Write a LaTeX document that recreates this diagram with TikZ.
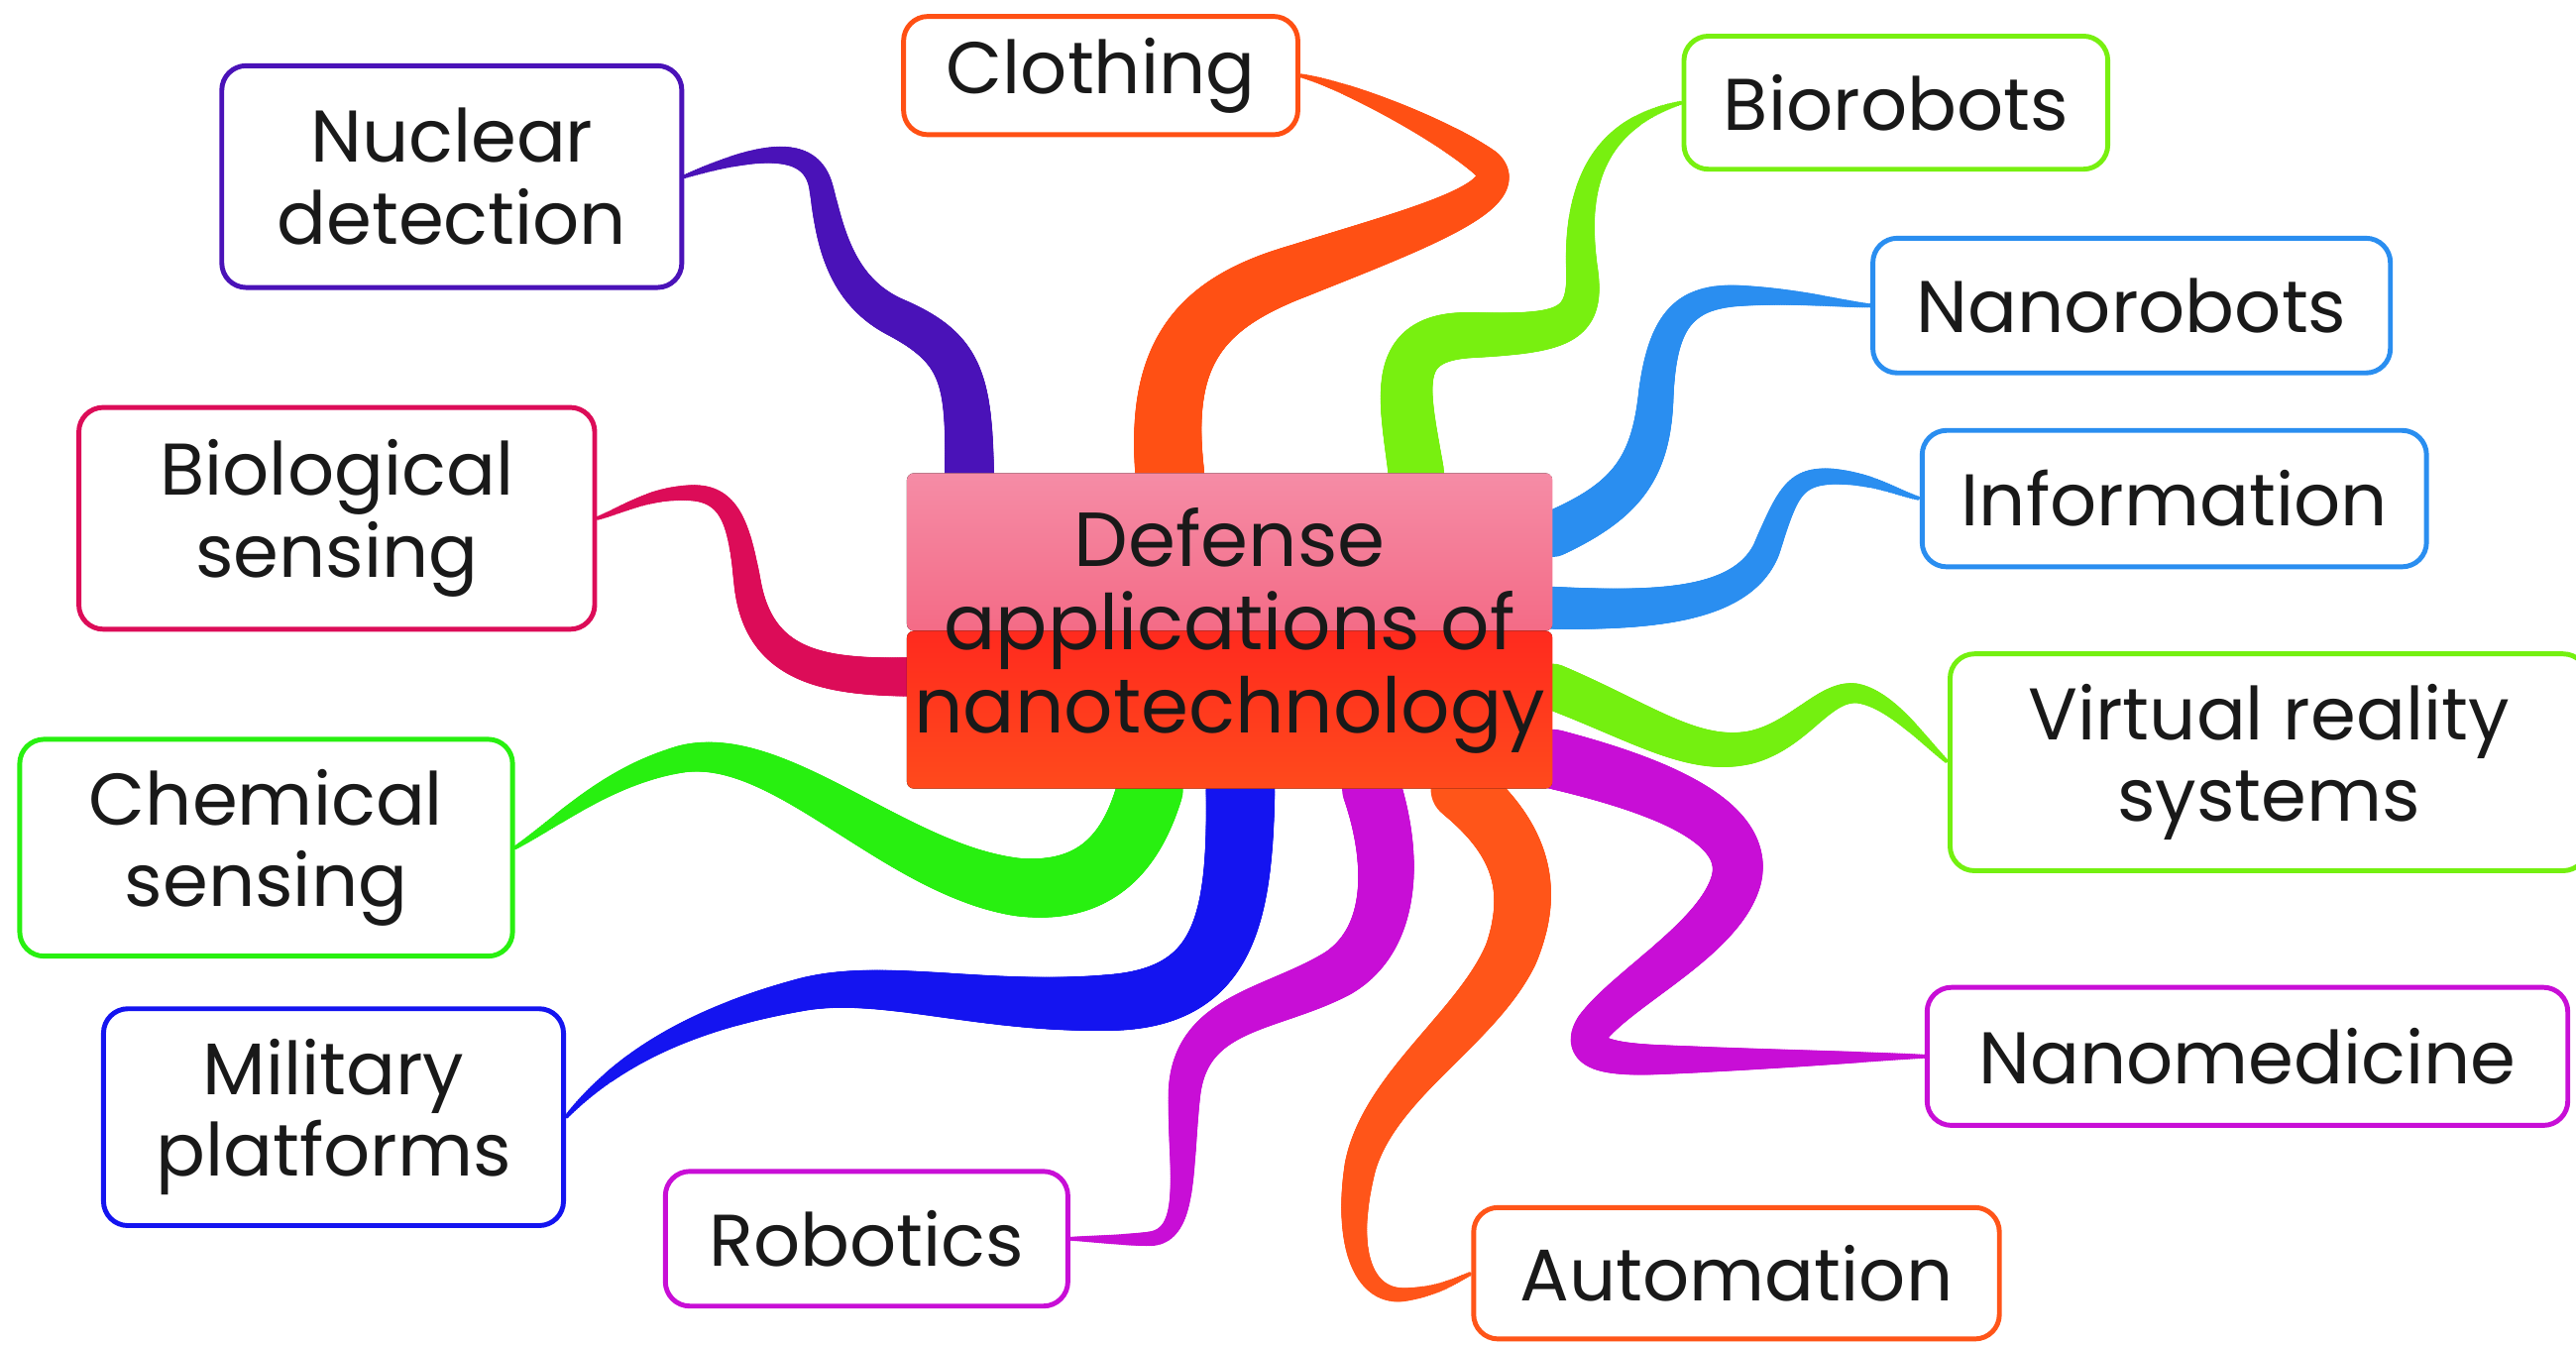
\documentclass[tikz,border=0pt]{standalone}
\usepackage{fontspec}
\setmainfont{Poppins}
\usepackage{tikz}
\usetikzlibrary{calc,decorations.markings,backgrounds}

\newlength\dpx
\setlength\dpx{0.016575cm}

\definecolor{nucc}{HTML}{4A12B8}
\definecolor{cloc}{HTML}{FF5014}
\definecolor{bioc}{HTML}{78F010}
\definecolor{nanoc}{HTML}{2A8EF0}
\definecolor{vrc}{HTML}{74F010}
\definecolor{medc}{HTML}{C80ED6}
\definecolor{autoc}{HTML}{FF5519}
\definecolor{milc}{HTML}{1414F0}
\definecolor{chemc}{HTML}{28F010}
\definecolor{biolc}{HTML}{DC0C58}
\definecolor{hubtopa}{HTML}{F58CA6}
\definecolor{hubtopb}{HTML}{F24A66}
\definecolor{hubbota}{HTML}{FF2A1E}
\definecolor{hubbotb}{HTML}{FF4A1C}

\tikzset{
  box/.style={draw=#1, line width=1.4pt, rounded corners=7pt, fill=white,
    align=center, inner sep=0pt, text=black!90,
    font=\fontsize{21}{23.5}\selectfont},
  hub/.style={rounded corners=2pt, align=center, inner sep=0pt,
    text=black!90, font=\fontsize{22}{24}\selectfont,
    path picture={
      \fill[top color=hubtopa, bottom color=hubtopb]
        (path picture bounding box.north west) rectangle (path picture bounding box.east);
      \fill[top color=hubbota, bottom color=hubbotb]
        (path picture bounding box.west) rectangle (path picture bounding box.south east);
    }},
  branch/.style n args={3}{decoration={markings,
    mark=between positions 0 and 1 step 0.7pt with {
      \pgfmathsetmacro\bt{\pgfkeysvalueof{/pgf/decoration/mark info/distance from start}/\pgfdecoratedpathlength}
      \pgfmathsetmacro\br{#3+(#2-#3)*(1-\bt)*(1+0.6*\bt)}
      \fill[#1] (0,0) circle (\br pt);}},
    postaction={decorate}}
}

\begin{document}
\begin{tikzpicture}[x=\dpx, y=-\dpx]
\useasboundingbox (0,0) rectangle (1568,818.7);

% centre
\node[hub, minimum width=393\dpx, minimum height=192\dpx] (hub) at (748.5,384)
  {Defense\\applications of\\nanotechnology};

% topics
\node[box=nucc, minimum width=280\dpx, minimum height=135\dpx] (nuc) at (275,107.5) {Nuclear\\detection};
\node[box=cloc, minimum width=240\dpx, minimum height=72\dpx] (clo) at (670,46) {Clothing};
\node[box=bioc, minimum width=258\dpx, minimum height=81\dpx] (bio) at (1154,62.5) {Biorobots};
\node[box=nanoc, minimum width=315\dpx, minimum height=82\dpx] (nano) at (1297.5,186) {Nanorobots};
\node[box=nanoc, minimum width=307\dpx, minimum height=83\dpx] (inf) at (1323.5,303.5) {Information};
\node[box=vrc, minimum width=388\dpx, minimum height=132\dpx] (vr) at (1381,464) {Virtual reality\\systems};
\node[box=medc, minimum width=390\dpx, minimum height=84\dpx] (med) at (1368,643) {Nanomedicine};
\node[box=autoc, minimum width=320\dpx, minimum height=80\dpx] (auto) at (1057,775) {Automation};
\node[box=medc, minimum width=245\dpx, minimum height=82\dpx] (rob) at (527.5,754) {Robotics};
\node[box=milc, minimum width=280\dpx, minimum height=132\dpx] (mil) at (203,680) {Military\\platforms};
\node[box=chemc, minimum width=300\dpx, minimum height=132\dpx] (chem) at (162,516) {Chemical\\sensing};
\node[box=biolc, minimum width=314\dpx, minimum height=135\dpx] (biol) at (205,315.5) {Biological\\sensing};

% branches
\begin{pgfonlayer}{background}
\fill[white] (0,0) rectangle (1568,818.7);
\path[branch={nucc}{7.1}{0.6}] ($(hub.north)+(-158.5,0)$) .. controls (590,230) and (585,212) .. (545,193)
  .. controls (510,176) and (505,140) .. (500,115) .. controls (495,90) and (470,88) .. (nuc.east);
\path[branch={cloc}{9.9}{0.6}] ($(hub.north)+(-36.5,0)$) .. controls (705,215) and (730,185) .. (790,165)
  .. controls (860,140) and (925,120) .. (905,100) .. controls (880,80) and (820,52) .. (clo.east);
\path[branch={bioc}{8}{0.6}] ($(hub.north)+(113.5,0)$) .. controls (855,240) and (845,205) .. (895,204)
  .. controls (950,203) and (966,200) .. (963,165) .. controls (958,110) and (975,75) .. (bio.west);
\path[branch={nanoc}{6.6}{0.6}] ($(hub.east)+(0,-59)$) .. controls (990,305) and (1005,285) .. (1008,240)
  .. controls (1012,195) and (1025,180) .. (1060,180) .. controls (1095,180) and (1120,185) .. (nano.west);
\path[branch={nanoc}{6.1}{0.6}] ($(hub.east)+(0,-14)$) .. controls (1010,372) and (1060,368) .. (1075,335)
  .. controls (1088,300) and (1092,290) .. (1115,290) .. controls (1140,291) and (1155,300) .. (inf.west);
\path[branch={vrc}{6.6}{0.6}] ($(hub.east)+(0,34)$) .. controls (1000,440) and (1030,462) .. (1065,455)
  .. controls (1095,448) and (1110,420) .. (1130,422) .. controls (1150,425) and (1170,450) .. (vr.west);
\path[branch={medc}{8.5}{0.6}] ($(hub.east)+(0,78)$) .. controls (1010,478) and (1065,500) .. (1057,535)
  .. controls (1048,570) and (990,600) .. (970,625) .. controls (960,640) and (975,645) .. (1010,645)
  .. controls (1080,645) and (1140,643) .. (med.west);
\path[branch={autoc}{9}{0.6}] ($(hub.south)+(141.5,0)$) .. controls (925,510) and (935,540) .. (920,580)
  .. controls (900,625) and (840,660) .. (828,710) .. controls (818,760) and (830,790) .. (855,788)
  .. controls (875,786) and (885,780) .. (auto.west);
\path[branch={medc}{8.5}{0.6}] ($(hub.south)+(86.5,0)$) .. controls (848,520) and (850,570) .. (815,592)
  .. controls (775,615) and (725,615) .. (721,665) .. controls (718,710) and (725,752) .. (700,754)
  .. controls (685,755) and (665,754) .. (rob.east);
\path[branch={milc}{9.9}{0.6}] ($(hub.south)+(6.5,0)$) .. controls (755,560) and (745,605) .. (680,610)
  .. controls (600,615) and (540,595) .. (490,605) .. controls (430,618) and (380,640) .. (mil.east);
\path[branch={chemc}{9.5}{0.6}] ($(hub.south)+(-48.5,0)$) .. controls (690,515) and (670,545) .. (620,540)
  .. controls (545,530) and (475,450) .. (415,462) .. controls (370,472) and (340,500) .. (chem.east);
\path[branch={biolc}{5.6}{0.6}] ($(hub.west)+(0,28)$) .. controls (500,412) and (462,405) .. (455,355)
  .. controls (450,320) and (445,300) .. (420,300) .. controls (395,300) and (380,310) .. (biol.east);
\end{pgfonlayer}
\end{tikzpicture}
\end{document}
